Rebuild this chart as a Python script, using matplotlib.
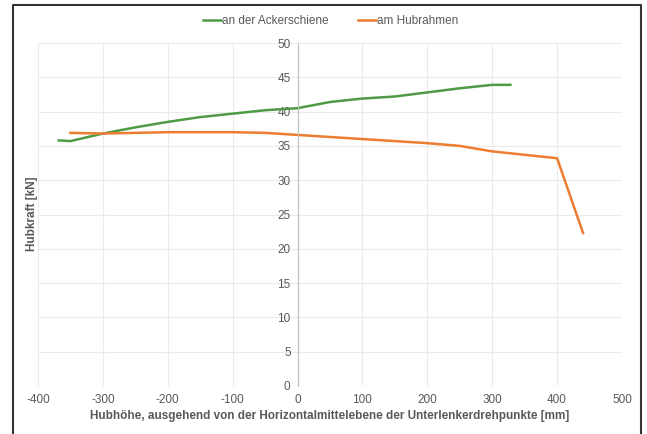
import matplotlib.pyplot as plt
from matplotlib.lines import Line2D

plt.rcParams['font.family'] = ['Liberation Sans', 'DejaVu Sans']
plt.rcParams['axes.unicode_minus'] = False

# Hubhöhe [mm] und Hubkraft [kN]
x_acker = [-368, -350, -300, -250, -200, -150, -100, -50, 0, 50, 100, 150, 200, 250, 300, 328]
y_acker = [35.8, 35.7, 36.8, 37.7, 38.5, 39.2, 39.7, 40.2, 40.5, 41.4, 41.9, 42.2, 42.8, 43.4, 43.9, 43.9]

x_hub = [-350, -300, -200, -100, -50, 0, 100, 200, 250, 300, 400, 440]
y_hub = [36.9, 36.8, 37.0, 37.0, 36.9, 36.6, 36.0, 35.4, 35.0, 34.2, 33.2, 22.3]

green = '#4e9a45'
orange = '#ed7d31'
txt = '#595959'

fig = plt.figure(figsize=(6.47, 4.34), dpi=100)
ax = fig.add_axes([38 / 647, 48 / 434, 584 / 647, 343 / 434])

ax.plot(x_acker, y_acker, color=green, lw=1.8, label='an der Ackerschiene')
ax.plot(x_hub, y_hub, color=orange, lw=1.8, label='am Hubrahmen')

ax.set_xlim(-400, 500)
ax.set_ylim(0, 50)
ax.set_xticks(range(-400, 501, 100))
ax.set_yticks(range(0, 51, 5))
ax.grid(True, color='#ebebeb', lw=0.8)
ax.set_axisbelow(True)

for s in ['top', 'right', 'bottom']:
    ax.spines[s].set_visible(False)
ax.spines['left'].set_position(('data', 0))
ax.spines['left'].set_color('#bfbfbf')
ax.tick_params(length=0, labelsize=8.5, labelcolor=txt)
ax.tick_params(axis='x', pad=6)
ax.tick_params(axis='y', pad=5)

ax.set_xlabel('Hubhöhe, ausgehend von der Horizontalmittelebene der Unterlenkerdrehpunkte [mm]',
              fontsize=8.5, fontweight='bold', color=txt, labelpad=3)
fig.text(32 / 647, 1 - 214 / 434, 'Hubkraft [kN]', rotation=90, ha='center', va='center',
         fontsize=8.5, fontweight='bold', color=txt)

fig.legend(loc='center', bbox_to_anchor=(331 / 647, 1 - 21 / 434), ncol=2, frameon=False,
           fontsize=8.5, labelcolor=txt, handlelength=1.5, handletextpad=0.1, columnspacing=2.5)

# Rahmen um die Grafik
fig.add_artist(Line2D([13 / 647, 13 / 647, 641 / 647, 641 / 647],
                      [-0.01, 1 - 5 / 434, 1 - 5 / 434, -0.01],
                      color='#333333', lw=1.5, transform=fig.transFigure))

fig.savefig('out.png', dpi=100)
